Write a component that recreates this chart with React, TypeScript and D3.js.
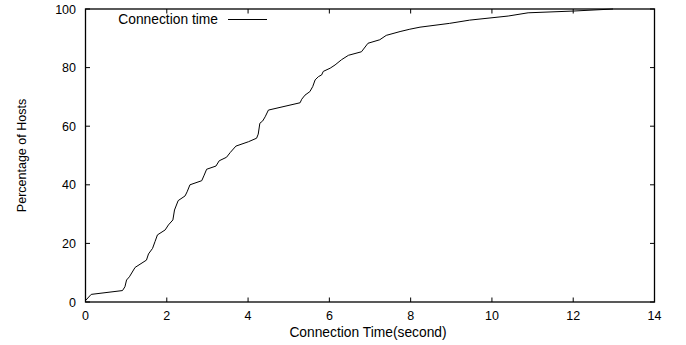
import React from "react";
import * as d3 from "d3";

const xValues = [0, 0.14, 0.91, 0.97, 1.01, 1.08, 1.22, 1.5, 1.55, 1.65, 1.71, 1.77, 1.96, 2.04, 2.15, 2.19, 2.28, 2.45, 2.5, 2.57, 2.86, 2.92, 2.98, 3.21, 3.29, 3.47, 3.56, 3.7, 4.01, 4.21, 4.25, 4.29, 4.36, 4.42, 4.5, 5.28, 5.32, 5.4, 5.52, 5.59, 5.65, 5.73, 5.81, 5.85, 6.02, 6.14, 6.3, 6.47, 6.79, 6.95, 7.24, 7.4, 7.74, 7.98, 8.23, 8.96, 9.45, 10.4, 10.89, 12.0, 12.98];
const yValues = [0.5, 2.6, 3.9, 5.2, 7.5, 8.6, 11.8, 14.3, 16.4, 18.3, 20.6, 22.9, 24.6, 26.3, 28, 31.4, 34.6, 36.2, 37.6, 40, 41.4, 43.3, 45.3, 46.4, 48.2, 49.4, 51, 53.2, 54.7, 55.9, 57.3, 61, 61.8, 63.2, 65.5, 68, 69.2, 70.6, 71.8, 73.5, 75.8, 76.9, 77.5, 78.7, 79.8, 80.9, 82.7, 84.2, 85.4, 88.3, 89.5, 91, 92.3, 93.1, 93.8, 95.1, 96.2, 97.6, 98.7, 99.3, 100];
const xTicks = [0, 2, 4, 6, 8, 10, 12, 14];
const yTicks = [0, 20, 40, 60, 80, 100];
const seriesName = "Connection time";
const xLabel = "Connection Time(second)";
const yLabel = "Percentage of Hosts";

const W = 686, H = 345;
const L = 85.5, R = 654.5, T = 9, B = 302;
const FONT = "'Liberation Sans', Arial, Helvetica, sans-serif";

export default function App() {
  const x = d3.scaleLinear().domain([0, 14]).range([L, R]);
  const y = d3.scaleLinear().domain([0, 100]).range([B, T]);
  const pts = xValues.map((v, i) => [v, yValues[i]] as [number, number]);
  const line = d3.line<[number, number]>().x(d => x(d[0])).y(d => y(d[1]));
  const tl = 4.5;
  return (
    <svg width={W} height={H} style={{ position: "absolute", left: 0, top: 0, background: "#fff" }}>
      <rect x={0} y={0} width={W} height={H} fill="#fff" />
      <path d={line(pts) || ""} fill="none" stroke="#000" strokeWidth={1} />
      {xTicks.map(t => (
        <g key={"x" + t}>
          <line x1={x(t)} x2={x(t)} y1={B} y2={B - tl} stroke="#000" strokeWidth={1} />
          <line x1={x(t)} x2={x(t)} y1={T} y2={T + tl} stroke="#000" strokeWidth={1} />
          <text x={x(t)} y={320} textAnchor="middle" fontFamily={FONT} fontSize={12.5} fill="#000">{t}</text>
        </g>
      ))}
      {yTicks.map(t => (
        <g key={"y" + t}>
          <line x1={L} x2={L + tl} y1={y(t)} y2={y(t)} stroke="#000" strokeWidth={1} />
          <line x1={R} x2={R - tl} y1={y(t)} y2={y(t)} stroke="#000" strokeWidth={1} />
          <text x={76} y={y(t) + 4.5} textAnchor="end" fontFamily={FONT} fontSize={12.5} fill="#000">{t}</text>
        </g>
      ))}
      <rect x={L} y={T} width={R - L} height={B - T} fill="none" stroke="#000" strokeWidth={1.3} />
      <text x={218} y={24} textAnchor="end" fontFamily={FONT} fontSize={13.8} fill="#000">{seriesName}</text>
      <line x1={228} x2={267} y1={19.5} y2={19.5} stroke="#000" strokeWidth={1} />
      <text x={368} y={337} textAnchor="middle" fontFamily={FONT} fontSize={13.8} fill="#000">{xLabel}</text>
      <text transform={`translate(26,${(T + B) / 2}) rotate(-90)`} textAnchor="middle" fontFamily={FONT} fontSize={12.5} fill="#000">{yLabel}</text>
    </svg>
  );
}
